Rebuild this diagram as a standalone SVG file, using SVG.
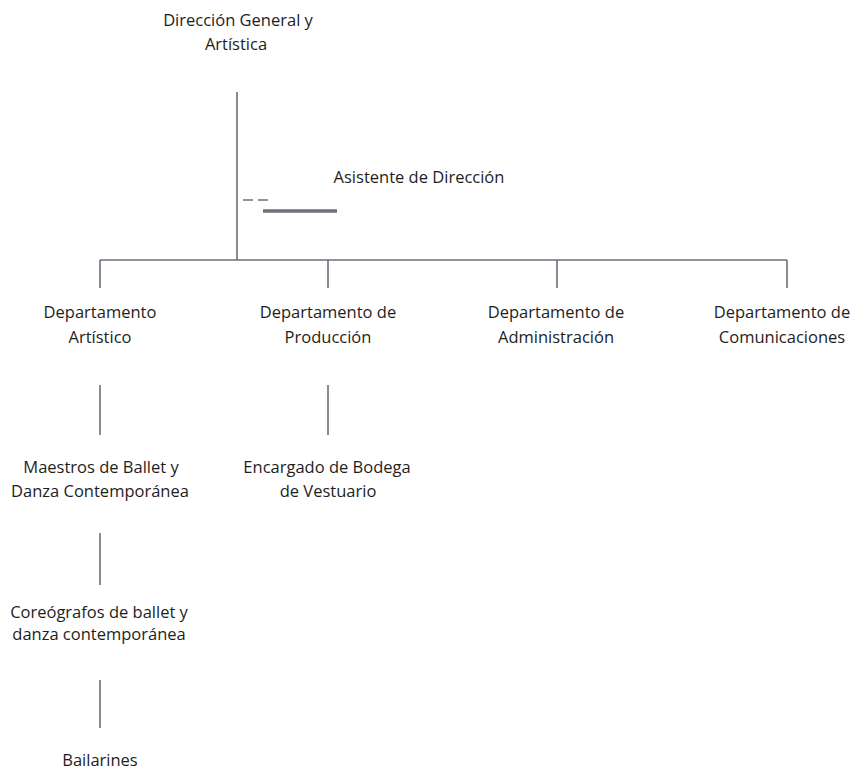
<svg xmlns="http://www.w3.org/2000/svg" width="855" height="773" viewBox="0 0 855 773">
<style>
text{font-family:"Open Sans","Noto Sans",sans-serif;font-size:16.5px;fill:#1e1e1e;text-anchor:middle}
.c{stroke:#6b707b;stroke-width:1.6;fill:none}
</style>
<rect width="855" height="773" fill="#fff"/>
<g id="connectors">
<path class="c" d="M237 92V260M100 260H787M100 260V288M328 260V288M557 260V288M787 260V288"/>
<path class="c" d="M243 200H253M258 200H268" stroke-width="1"/>
<path d="M263 211H337" stroke="#6b707b" stroke-width="3.5"/>
<path class="c" d="M100 385V435M328 385V435M100 533V585M100 680V728"/>
</g>
<g id="direccion"><text x="238" y="26">Dirección General y</text><text x="236" y="50">Artística</text></g>
<g id="asistente"><text x="419" y="183">Asistente de Dirección</text></g>
<g id="artistico"><text x="100" y="318">Departamento</text><text x="100" y="343">Artístico</text></g>
<g id="produccion"><text x="328" y="318">Departamento de</text><text x="328" y="343">Producción</text></g>
<g id="administracion"><text x="556" y="318">Departamento de</text><text x="556" y="343">Administración</text></g>
<g id="comunicaciones"><text x="782" y="318" font-size="16">Departamento de</text><text x="782" y="343" font-size="16">Comunicaciones</text></g>
<g id="maestros"><text x="101" y="473">Maestros de Ballet y</text><text x="100" y="497">Danza Contemporánea</text></g>
<g id="bodega"><text x="327" y="473">Encargado de Bodega</text><text x="328" y="497">de Vestuario</text></g>
<g id="coreografos"><text x="99" y="618">Coreógrafos de ballet y</text><text x="99" y="640">danza contemporánea</text></g>
<g id="bailarines"><text x="100" y="766">Bailarines</text></g>
</svg>
